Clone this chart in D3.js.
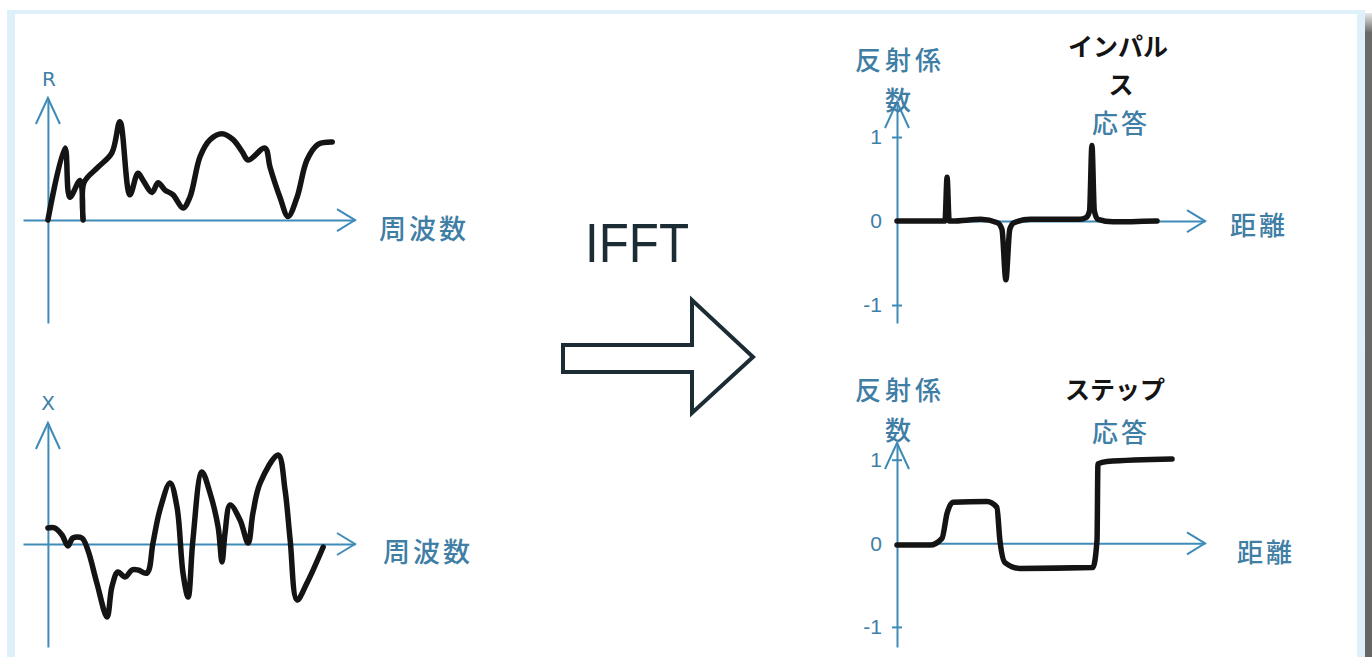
<!DOCTYPE html>
<html>
<head>
<meta charset="utf-8">
<script src="https://cdn.jsdelivr.net/npm/d3@7"></script>
<style>
  body { margin: 0; background: #fff; }
  svg { display: block; }
</style>
</head>
<body>
<div id="chart"></div>
<script>
// R (resistance) vs frequency
const rFreq = [0, 0.57, 0.73, 1.07, 1.17, 1.2, 1.67, 2.13, 2.4, 2.73, 3.0, 3.17, 3.47, 3.67, 3.9, 4.17,
  4.5, 4.73, 5.07, 5.4, 5.8, 6.17, 6.47, 6.67, 7.23, 7.4, 7.73, 8.0, 8.3, 8.63, 9.0, 9.47];
const rValue = [0, 0.6, 0.19, 0.33, 0.0, 0.31, 0.44, 0.56, 0.82, 0.21, 0.39, 0.33, 0.23, 0.31, 0.25, 0.21,
  0.1, 0.19, 0.53, 0.67, 0.72, 0.67, 0.57, 0.5, 0.6, 0.44, 0.19, 0.03, 0.19, 0.5, 0.63, 0.65];

// X (reactance) vs frequency
const xFreq = [0, 0.23, 0.47, 0.67, 0.83, 1.13, 1.33, 1.63, 1.97, 2.13, 2.33, 2.57, 2.8, 3.0, 3.3, 3.5,
  3.73, 4.07, 4.3, 4.5, 4.67, 4.83, 5.13, 5.4, 5.67, 5.8, 5.9, 6.07, 6.4, 6.67, 6.83, 7.07, 7.67, 7.9,
  8.07, 8.3, 8.63, 9.17];
const xValue = [0.16, 0.16, 0.09, -0.02, 0.06, 0.06, -0.06, -0.39, -0.73, -0.43, -0.28, -0.33, -0.26,
  -0.26, -0.29, 0.01, 0.34, 0.61, 0.37, -0.29, -0.53, 0.04, 0.72, 0.51, 0.17, -0.18, 0.11, 0.39, 0.24,
  0.01, 0.31, 0.61, 0.89, 0.54, 0.04, -0.56, -0.39, -0.03];

// impulse response (reflection coefficient vs distance)
const impulseDist = [0, 1.5, 1.6, 1.67, 1.74, 1.85, 2.8, 3.35, 3.5, 3.63, 3.76, 3.9, 4.45, 6.1, 6.3,
  6.42, 6.5, 6.58, 6.7, 7.2, 8.67];
const impulseValue = [0, 0, 0, 0.52, 0, 0, 0.02, -0.02, -0.1, -0.7, -0.1, -0.02, 0.02, 0.02, 0.04,
  0.12, 0.9, 0.12, 0.02, -0.01, 0];

// step response
const stepDist = [0, 1.1, 1.5, 1.67, 1.87, 3.0, 3.33, 3.43, 3.6, 4.1, 6.53, 6.67, 6.7, 7.0, 9.17];
const stepValue = [-0.02, -0.02, 0.06, 0.36, 0.49, 0.5, 0.43, 0.04, -0.23, -0.3, -0.29, 0.04, 0.95,
  0.98, 1.01];

const coefTicks = [-1, 0, 1];
const tickLabels = ["-1", "0", "1"];

const width = 1372;
const height = 657;
const axisColor = "#3f8bb8";
const labelColor = "#3f7ea5";
const inkColor = "#141414";
const jp = "'Noto Sans CJK JP', 'Noto Sans', sans-serif";

const svg = d3
  .select("#chart")
  .append("svg")
  .attr("width", width)
  .attr("height", height);

// frame
const defs = svg.append("defs");
const grad = defs
  .append("linearGradient")
  .attr("id", "shade")
  .attr("x1", 0).attr("y1", 0).attr("x2", 0).attr("y2", 1);
grad.append("stop").attr("offset", "0").attr("stop-color", "#e8e8e8");
grad.append("stop").attr("offset", "0.03").attr("stop-color", "#6a6a6a");
grad.append("stop").attr("offset", "1").attr("stop-color", "#666");

svg.append("rect").attr("x", 1365).attr("y", 13).attr("width", 7).attr("height", 660).attr("fill", "url(#shade)");
svg.append("rect").attr("x", 7).attr("y", 10).attr("width", 1358).attr("height", 700).attr("fill", "#def1fa");
svg.append("rect").attr("x", 15).attr("y", 14).attr("width", 1342).attr("height", 700).attr("fill", "#fff");

function addText(x, y, txt, opts = {}) {
  return svg
    .append("text")
    .attr("x", x)
    .attr("y", y)
    .attr("text-anchor", opts.anchor || "middle")
    .attr("dominant-baseline", "central")
    .attr("font-family", opts.font || jp)
    .attr("font-size", opts.size || 26)
    .attr("font-weight", opts.weight || 500)
    .attr("fill", opts.color || labelColor)
    .attr("letter-spacing", opts.spacing || 0)
    .text(txt);
}

function drawAxes(x, y, withTicks) {
  const [x0, x1] = x.range();
  const [yb, yt] = y.range();
  const xAxis = svg
    .append("g")
    .attr("transform", `translate(0,${y(0)})`)
    .call(d3.axisBottom(x).tickValues([]).tickSizeOuter(0));
  const yAxis = svg
    .append("g")
    .attr("transform", `translate(${x(0)},0)`)
    .call(
      d3.axisLeft(y)
        .tickValues(withTicks ? coefTicks : [])
        .tickFormat((d, i) => tickLabels[i])
        .tickSizeOuter(0),
    );
  [xAxis, yAxis].forEach((g) => {
    g.select(".domain").attr("stroke", axisColor).attr("stroke-width", 2);
  });
  yAxis.selectAll(".tick line")
    .attr("x1", -5).attr("x2", 5)
    .attr("stroke", axisColor).attr("stroke-width", 2)
    .attr("opacity", (d) => (d === 0 ? 0 : 1));
  yAxis.selectAll(".tick text")
    .attr("x", -15)
    .attr("font-family", "'Liberation Sans', Arial, sans-serif")
    .attr("font-size", 21)
    .attr("fill", labelColor);

  // open arrow heads
  svg.append("path")
    .attr("d", `M${x1 - 18},${y(0) - 11}L${x1},${y(0)}L${x1 - 18},${y(0) + 11}`)
    .attr("fill", "none").attr("stroke", axisColor).attr("stroke-width", 2);
  svg.append("path")
    .attr("d", `M${x(0) - 12},${yt + 26}L${x(0)},${yt}L${x(0) + 12},${yt + 26}`)
    .attr("fill", "none").attr("stroke", axisColor).attr("stroke-width", 2);
}

function drawCurve(x, y, xs, ys, curve) {
  const pts = xs.map((d, i) => [d, ys[i]]);
  svg.append("path")
    .datum(pts)
    .attr("fill", "none")
    .attr("stroke", inkColor)
    .attr("stroke-width", 5.5)
    .attr("stroke-linejoin", "round")
    .attr("stroke-linecap", "round")
    .attr("d", d3.line().x((d) => x(d[0])).y((d) => y(d[1])).curve(curve));
}

// left panels: frequency domain
const xFreqScale = d3.scaleLinear().domain([-0.83, 10.23]).range([23, 355]);
const yR = d3.scaleLinear().domain([-0.858, 1.017]).range([323, 98]);
const yX = d3.scaleLinear().domain([-1.03, 1.21]).range([647, 423]);

drawAxes(xFreqScale, yR, false);
drawCurve(xFreqScale, yR, rFreq, rValue, d3.curveCatmullRom.alpha(0.5));
addText(49, 79, "R", { font: "'DejaVu Sans', sans-serif", size: 20, weight: "normal" });
addText(424, 227, "周波数", { size: 27, spacing: 3 });

drawAxes(xFreqScale, yX, false);
drawCurve(xFreqScale, yX, xFreq, xValue, d3.curveCatmullRom.alpha(0.5));
addText(48, 403, "X", { font: "'DejaVu Sans', sans-serif", size: 20, weight: "normal" });
addText(428, 550, "周波数", { size: 27, spacing: 3 });

// IFFT arrow
svg.append("text")
  .attr("x", 585)
  .attr("y", 262)
  .attr("font-family", "'Liberation Sans', Arial, sans-serif")
  .attr("font-size", 56)
  .attr("textLength", 104)
  .attr("lengthAdjust", "spacingAndGlyphs")
  .attr("fill", "#1c2c34")
  .text("IFFT");
svg.append("path")
  .attr("d", "M563,345L692,345L692,300L753,357L692,413L692,372L563,372Z")
  .attr("fill", "#fff")
  .attr("stroke", "#1c2c34")
  .attr("stroke-width", 4)
  .attr("stroke-linejoin", "miter");

// right panels: time domain
const xDist = d3.scaleLinear().domain([0, 10.27]).range([897, 1205]);
const yImp = d3.scaleLinear().domain([-1.214, 1.417]).range([323, 102]);
const yStep = d3.scaleLinear().domain([-1.24, 1.2]).range([647, 443]);

drawAxes(xDist, yImp, true);
drawCurve(xDist, yImp, impulseDist, impulseValue, d3.curveMonotoneX);
addText(900, 58, "反射係", { size: 26, spacing: 4 });
addText(898, 98, "数", { size: 26 });
addText(1118, 45, "インパル", { size: 25, weight: "bold", color: inkColor });
addText(1121, 83, "ス", { size: 25, weight: "bold", color: inkColor });
addText(1121, 121, "応答", { size: 26, spacing: 3 });
addText(1259, 223, "距離", { size: 26, spacing: 3 });

drawAxes(xDist, yStep, true);
drawCurve(xDist, yStep, stepDist, stepValue, d3.curveMonotoneX);
addText(900, 388, "反射係", { size: 26, spacing: 4 });
addText(898, 428, "数", { size: 26 });
addText(1115, 388, "ステップ", { size: 25, weight: "bold", color: inkColor });
addText(1121, 430, "応答", { size: 26, spacing: 3 });
addText(1266, 550, "距離", { size: 26, spacing: 3 });
</script>
</body>
</html>
